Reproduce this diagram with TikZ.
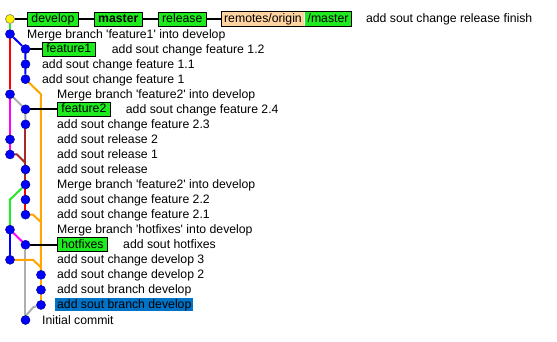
\documentclass[tikz,border=0pt]{standalone}
\usepackage{fontspec}
\newfontfamily\guifont{Liberation Sans}
\usepackage{tikz}
\usetikzlibrary{positioning,calc,backgrounds}
\definecolor{tagfill}{RGB}{30,235,30}
\definecolor{remfill}{RGB}{255,212,160}
\definecolor{selblue}{RGB}{0,115,200}
\definecolor{lred}{RGB}{255,0,0}
\definecolor{lblue}{RGB}{0,0,255}
\definecolor{lorange}{RGB}{255,165,0}
\definecolor{lmag}{RGB}{255,0,255}
\definecolor{lgray}{RGB}{175,175,175}
\definecolor{lbrown}{RGB}{165,42,42}
\definecolor{lgreen}{RGB}{40,230,40}
\newcommand{\gui}{\guifont\fontsize{12.3}{14}\selectfont}
\tikzset{
  commit/.style={circle,draw=blue!55!black,line width=0.5bp,fill=lblue,minimum size=9bp,inner sep=0pt},
  head/.style={commit,draw=black!60,fill=yellow},
  tag/.style={draw=black,line width=0.8bp,fill=tagfill,anchor=west,inner xsep=4bp,inner ysep=1.5bp,
    text height=9bp,text depth=2bp},
  msg/.style={anchor=west,inner sep=0pt,text height=9.6bp,text depth=1.6bp},
  sel/.style={fill=selblue,inner xsep=2bp,inner ysep=0.9bp,xshift=-2bp},
  lane/.style={line width=2bp},
  link/.style={line width=2bp,black},
}

\begin{document}
\begin{tikzpicture}[x=15.5bp,y=-15.05bp,font=\gui,node distance=15bp]
  \useasboundingbox (-0.645,-1.262) rectangle (35.29,21.46);
  % text columns
  \coordinate (t1) at (1.1,0);
  \coordinate (t2) at (2.06,0);
  \coordinate (t3) at (3.03,0);

  % commits
  \node[head] (c0) at (0,0) {};
  \node[commit] (c1) at (0,1) {};
  \node[commit] (c2) at (1,2) {};
  \node[commit] (c3) at (1,3) {};
  \node[commit] (c4) at (1,4) {};
  \node[commit] (c5) at (0,5) {};
  \node[commit] (c6) at (1,6) {};
  \node[commit] (c7) at (1,7) {};
  \node[commit] (c8) at (0,8) {};
  \node[commit] (c9) at (0,9) {};
  \node[commit] (c10) at (1,10) {};
  \node[commit] (c11) at (1,11) {};
  \node[commit] (c12) at (1,12) {};
  \node[commit] (c13) at (1,13) {};
  \node[commit] (c14) at (0,14) {};
  \node[commit] (c15) at (1,15) {};
  \node[commit] (c16) at (0,16) {};
  \node[commit] (c17) at (2,17) {};
  \node[commit] (c18) at (2,18) {};
  \node[commit] (c19) at (2,19) {};
  \node[commit] (c20) at (1,20) {};

  % row 0: refs
  \node[tag] (dev) at (c0 -| t1) {develop};
  \node[tag,right=of dev] (mst) {\bfseries master};
  \node[tag,right=of mst] (rel) {release};
  \node[tag,draw=none,fill=remfill,inner xsep=2bp,right=of rel] (rmt) {remotes/origin};
  \node[tag,draw=none,inner xsep=3bp,right=0pt of rmt] (rmtm) {/master};
  \draw[line width=0.8bp] (rmt.north west) rectangle (rmtm.south east);
  \node[msg,right=14bp of rmtm] (m0) {add sout change release finish};

  % messages
  \node[msg] (m1) at (c1 -| t1) {Merge branch 'feature1' into develop};
  \node[tag] (f1) at (c2 -| t2) {feature1};
  \node[msg,right=16bp of f1] (m2) {add sout change feature 1.2};
  \node[msg] (m3) at (c3 -| t2) {add sout change feature 1.1};
  \node[msg] (m4) at (c4 -| t2) {add sout change feature 1};
  \node[msg] (m5) at (c5 -| t3) {Merge branch 'feature2' into develop};
  \node[tag] (f2) at (c6 -| t3) {feature2};
  \node[msg,right=of f2] (m6) {add sout change feature 2.4};
  \node[msg] (m7) at (c7 -| t3) {add sout change feature 2.3};
  \node[msg] (m8) at (c8 -| t3) {add sout release 2};
  \node[msg] (m9) at (c9 -| t3) {add sout release 1};
  \node[msg] (m10) at (c10 -| t3) {add sout release};
  \node[msg] (m11) at (c11 -| t3) {Merge branch 'feature2' into develop};
  \node[msg] (m12) at (c12 -| t3) {add sout change feature 2.2};
  \node[msg] (m13) at (c13 -| t3) {add sout change feature 2.1};
  \node[msg] (m14) at (c14 -| t3) {Merge branch 'hotfixes' into develop};
  \node[tag] (hf) at (c15 -| t3) {hotfixes};
  \node[msg,right=of hf] (m15) {add sout hotfixes};
  \node[msg] (m16) at (c16 -| t3) {add sout change develop 3};
  \node[msg] (m17) at (c17 -| t3) {add sout change develop 2};
  \node[msg] (m18) at (c18 -| t3) {add sout branch develop};
  \node[msg,sel] (m19) at (c19 -| t3) {add sout branch develop};
  \node[msg] (m20) at (c20 -| t2) {Initial commit};

  % ref links
  \draw[link] (c0) -- (dev) -- (mst) -- (rel) -- (rmt);
  \draw[link] (c2) -- (f1);
  \draw[link] (c6) -- (f2);
  \draw[link] (c15) -- (hf);

  % lanes
  \begin{scope}[on background layer]
    \fill[white] (-0.645,-1.262) rectangle (35.29,21.46);
    \draw[lane,lgreen] (c0) -- (c1);
    \draw[lane,lred] (c1) -- (c5);
    \draw[lane,lblue] (c1) -- (c2) -- (c3) -- (c4);
    \draw[lane,lorange] (c4) -- (c5 -| c17) -- (c17);
    \draw[lane,lgray] (c5) -- (c6) -- (c7);
    \draw[lane,lmag] (c5) -- (c8) -- (c9);
    \draw[lane,lbrown] (c7) -- (c10) -- (c11);
    \draw[lane,lbrown] (c9) -- ($(c9 -| c10)+(-0.55,0)$) -- ($(c9 -| c10)+(0,0.56)$);
    \draw[lane,lred] (c11) -- (c12) -- (c13);
    \draw[lane,lgreen] (c11) -- (c12 -| c14) -- (c14);
    \draw[lane,lorange] (c13) -- ($(c13 -| c17)+(-0.52,0)$) -- ($(c13 -| c17)+(0,0.5)$);
    \draw[lane,lmag] (c14) -- (c15);
    \draw[lane,lblue] (c14) -- (c16);
    \draw[lane,lgray] (c15) -- (c20);
    \draw[lane,lorange] (c16) -- ($(c16 -| c17)+(-0.52,0)$) -- ($(c16 -| c17)+(0,0.5)$);
    \draw[lane,lorange] (c17) -- (c18) -- (c19);
    \draw[lane,lgray] (c19) -- ($(c19 -| c20)+(0.5,0.15)$) -- ($(c19 -| c20)+(0,0.75)$);
  \end{scope}
\end{tikzpicture}
\end{document}
